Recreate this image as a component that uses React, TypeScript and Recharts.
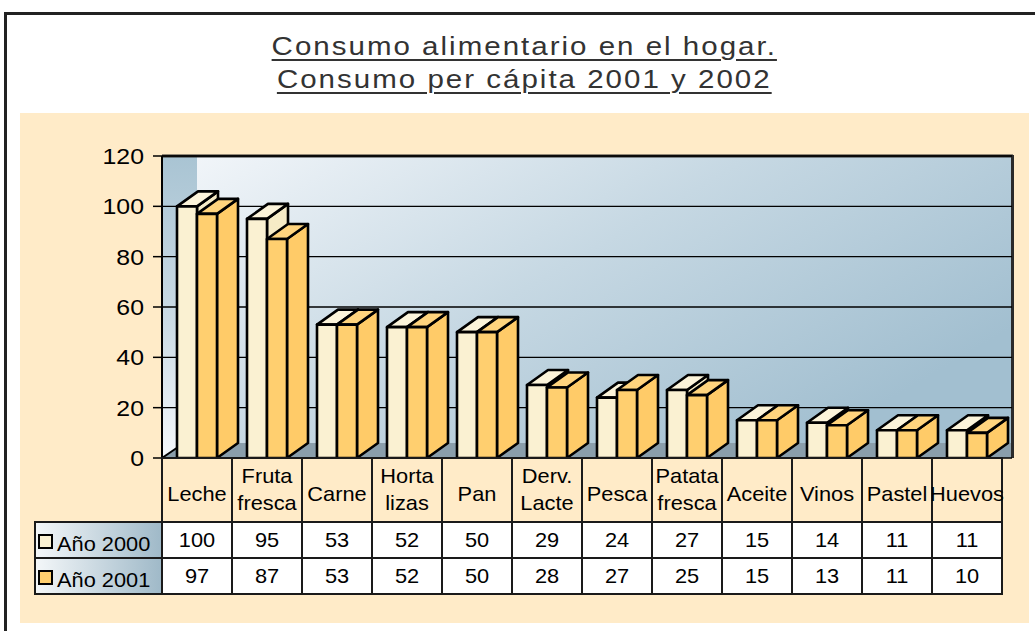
import { BarChart, Bar, XAxis, YAxis, CartesianGrid } from "recharts";

const categories = [
  "Leche",
  "Fruta fresca",
  "Carne",
  "Horta lizas",
  "Pan",
  "Derv. Lacte",
  "Pesca",
  "Patata fresca",
  "Aceite",
  "Vinos",
  "Pastel",
  "Huevos",
];
const year2000 = [100, 95, 53, 52, 50, 29, 24, 27, 15, 14, 11, 11];
const year2001 = [97, 87, 53, 52, 50, 28, 27, 25, 15, 13, 11, 10];
const seriesNames = ["Año 2000", "Año 2001"];
const yTicks = [0, 20, 40, 60, 80, 100, 120];
const titleLines = ["Consumo alimentario en el hogar.", "Consumo per cápita 2001 y 2002"];

const data = categories.map((name, i) => ({ name, a2000: year2000[i], a2001: year2001[i] }));

const FONT = "'Liberation Sans', Arial, Helvetica, sans-serif";
const BEIGE = "#ffebc8";
const COL_W = 70;
const PLOT_BOTTOM = 458;
const LINE = "#1a1a1a";
const SX = 1.09; // the original text is a bit wide

const colors = [
  { front: "#faf1d2", top: "#fcf4da", side: "#f6ebc6" },
  { front: "#ffcf6f", top: "#ffd47e", side: "#ffcb68" },
];

function Txt({ x, y, anchor = "middle", size = 20, sx = SX, children }: any) {
  return (
    <text
      transform={`translate(${x} ${y}) scale(${sx} 1)`}
      textAnchor={anchor}
      fontFamily={FONT}
      fontSize={size}
      fill="#000"
    >
      {children}
    </text>
  );
}

function Box3D(props: any) {
  const { x, y, width, height, front, top, side } = props;
  if (!width || height == null) return null;
  const dx = 21;
  const dy = 15;
  const r = x + width;
  const b = y + height;
  return (
    <g stroke="#000" strokeWidth={2.6} strokeLinejoin="round">
      <polygon points={`${r},${y} ${r + dx},${y - dy} ${r + dx},${b - dy} ${r},${b}`} fill={side} />
      <polygon points={`${x},${y} ${x + dx},${y - dy} ${r + dx},${y - dy} ${r},${y}`} fill={top} />
      <rect x={x} y={y} width={width} height={height} fill={front} />
    </g>
  );
}

function YTick(props: any) {
  const { x, y, payload } = props;
  return (
    <Txt x={x} y={y + 8} anchor="end" size={22} sx={1.13}>
      {payload.value}
    </Txt>
  );
}

// x-axis tick draws the category header and the data table column
function TableTick(props: any) {
  const { x, payload, index } = props;
  const i = payload?.index ?? index;
  const left = x - COL_W / 2;
  const words = String(payload.value).split(" ");
  const rows = [year2000[i], year2001[i]];
  return (
    <g>
      <rect x={left} y={PLOT_BOTTOM} width={COL_W} height={64} fill={BEIGE} stroke={LINE} strokeWidth={2} />
      <rect x={left} y={PLOT_BOTTOM + 64} width={COL_W} height={36} fill="#fff" stroke={LINE} strokeWidth={2} />
      <rect x={left} y={PLOT_BOTTOM + 100} width={COL_W} height={36} fill="#fff" stroke={LINE} strokeWidth={2} />
      {words.length === 1 ? (
        <Txt x={x} y={PLOT_BOTTOM + 43}>{words[0]}</Txt>
      ) : (
        words.map((w, k) => (
          <Txt key={k} x={x} y={PLOT_BOTTOM + 25 + k * 27}>
            {w}
          </Txt>
        ))
      )}
      {rows.map((v, k) => (
        <Txt key={k} x={x} y={PLOT_BOTTOM + 89 + k * 36}>
          {v}
        </Txt>
      ))}
    </g>
  );
}

export default function App() {
  return (
    <div
      style={{
        position: "fixed",
        left: 0,
        top: 0,
        width: 1035,
        height: 631,
        background: "#fff",
        overflow: "hidden",
        fontFamily: FONT,
      }}
    >
      {/* outer frame */}
      <div
        style={{
          position: "absolute",
          left: 4,
          top: 12,
          width: 1060,
          height: 660,
          borderTop: "3px solid #222",
          borderLeft: "3px solid #222",
        }}
      />
      {titleLines.map((t, i) => (
        <div
          key={i}
          style={{
            position: "absolute",
            left: 4,
            width: 1042,
            top: 31 + i * 33,
            lineHeight: "30px",
            fontSize: 25,
            letterSpacing: 1.7,
            color: "#333",
            textAlign: "center",
            textDecoration: "underline",
            textDecorationThickness: 2,
            textUnderlineOffset: 4,
            transform: "scaleX(1.18)",
            transformOrigin: "525px 0",
          }}
        >
          {t}
        </div>
      ))}
      <div style={{ position: "absolute", left: 20, top: 113, width: 1009, height: 510, background: BEIGE }} />

      {/* 3D walls, floor and the legend column of the table */}
      <svg width={1035} height={631} style={{ position: "absolute", left: 0, top: 0 }}>
        <defs>
          <linearGradient id="back" x1="0" y1="0" x2="1" y2="0.6">
            <stop offset="0" stopColor="#f1f5f9" />
            <stop offset="0.5" stopColor="#c6d8e3" />
            <stop offset="1" stopColor="#a2bfd0" />
          </linearGradient>
          <linearGradient id="side" x1="0" y1="0" x2="0" y2="1">
            <stop offset="0" stopColor="#a9c4d3" />
            <stop offset="0.55" stopColor="#cbdbe5" />
            <stop offset="1" stopColor="#f5f8fb" />
          </linearGradient>
          <linearGradient id="leg" x1="0" y1="0" x2="1" y2="0">
            <stop offset="0" stopColor="#f4f7f9" />
            <stop offset="1" stopColor="#9fb9c8" />
          </linearGradient>
        </defs>
        <rect x={197} y={156} width={815} height={287} fill="url(#back)" />
        <polygon points="162,156 197,156 197,443 162,458" fill="url(#side)" />
        <polygon points="162,458 184,443 1012,443 1012,458" fill="#8a9eab" />
        <line x1={162} y1={458} x2={184} y2={443} stroke="#000" strokeWidth={2} />
        <line x1={162} y1={156} x2={1013} y2={156} stroke="#2a2a2a" strokeWidth={3} />
        <line x1={1012.5} y1={155} x2={1012.5} y2={458} stroke="#2a2a2a" strokeWidth={3} />
        {seriesNames.map((s, k) => (
          <g key={s}>
            <rect x={35} y={522 + k * 36} width={127} height={36} fill="url(#leg)" stroke={LINE} strokeWidth={2} />
            <rect x={39} y={535 + k * 36} width={13} height={13} fill={colors[k].front} stroke="#000" strokeWidth={2} />
            <Txt x={57} y={551 + k * 36} anchor="start">
              {s}
            </Txt>
          </g>
        ))}
      </svg>

      <div style={{ position: "absolute", left: 0, top: 0 }}>
        <BarChart
          width={1035}
          height={631}
          data={data}
          margin={{ top: 156, right: 23, left: 102, bottom: 37 }}
          barGap={0}
          style={{ fontFamily: FONT }}
        >
          <CartesianGrid vertical={false} stroke="#000" strokeWidth={1.3} />
          <XAxis
            dataKey="name"
            height={136}
            axisLine={false}
            tickLine={false}
            interval={0}
            padding={{ left: 0, right: 10 }}
            tick={<TableTick />}
          />
          <YAxis
            domain={[0, 120]}
            ticks={yTicks}
            interval={0}
            width={60}
            tickSize={9}
            tickMargin={9}
            axisLine={{ stroke: "#000", strokeWidth: 2 }}
            tickLine={{ stroke: "#000", strokeWidth: 1.5 }}
            tick={<YTick />}
          />
          <Bar
            dataKey="a2000"
            name={seriesNames[0]}
            barSize={20}
            isAnimationActive={false}
            shape={(p: any) => <Box3D {...p} {...colors[0]} />}
          />
          <Bar
            dataKey="a2001"
            name={seriesNames[1]}
            barSize={20}
            isAnimationActive={false}
            shape={(p: any) => <Box3D {...p} {...colors[1]} />}
          />
        </BarChart>
      </div>
    </div>
  );
}
